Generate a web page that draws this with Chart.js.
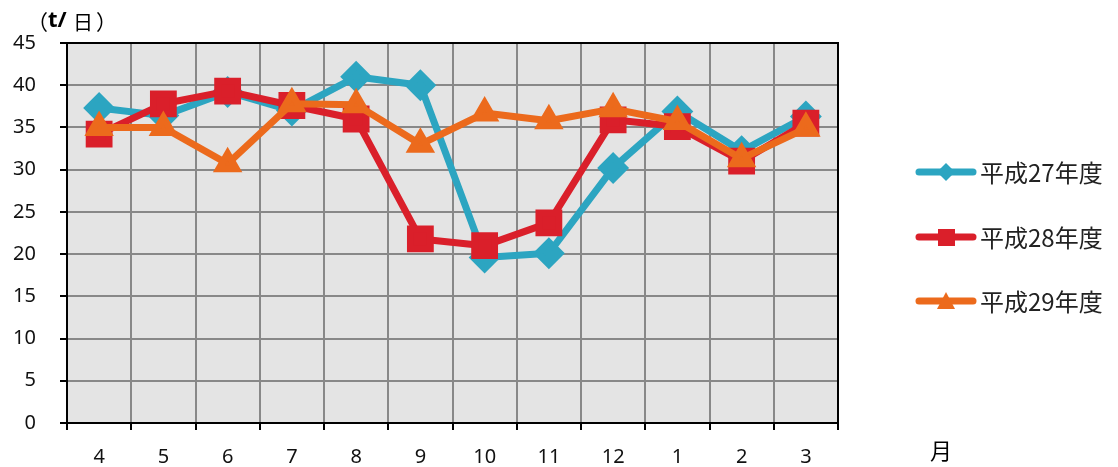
<!DOCTYPE html>
<html>
<head>
<meta charset="utf-8">
<script src="https://cdn.jsdelivr.net/npm/chart.js@4"></script>
<style>
  html, body { margin: 0; padding: 0; background: #fff; }
  canvas { display: block; }
</style>
</head>
<body>
<canvas id="lineChart" width="1118" height="467"></canvas>
<script>
const months = ['4', '5', '6', '7', '8', '9', '10', '11', '12', '1', '2', '3'];
const h27 = [37.3, 36.4, 39.2, 37.0, 41.0, 40.0, 19.6, 20.1, 30.2, 36.9, 32.2, 36.3];
const h28 = [34.2, 37.8, 39.3, 37.6, 36.0, 21.8, 21.0, 23.7, 35.9, 35.1, 31.0, 35.5];
const h29 = [35.0, 35.0, 30.7, 37.8, 37.7, 33.0, 36.7, 35.8, 37.2, 35.7, 31.3, 34.9];
const yTicks = [0, 5, 10, 15, 20, 25, 30, 35, 40, 45];

const teal = '#2CA5C1';
const red = '#DA1F2A';
const orange = '#EC6A1C';

const labelFont = "'Noto Sans', 'Noto Sans CJK JP', sans-serif";
const cjkFont = "'Noto Sans CJK JP', sans-serif";

// background + frame for the plot area
const plotArea = {
  id: 'plotArea',
  beforeDraw(chart) {
    const { ctx, chartArea: a } = chart;
    ctx.save();
    ctx.fillStyle = '#E4E4E4';
    ctx.fillRect(a.left, a.top, a.right - a.left, a.bottom - a.top);
    ctx.restore();
  },
  afterDatasetsDraw(chart) {
    const { ctx, chartArea: a } = chart;
    ctx.save();
    ctx.strokeStyle = '#000';
    ctx.lineWidth = 2;
    ctx.beginPath();
    ctx.moveTo(a.left, a.top);
    ctx.lineTo(a.right, a.top);
    ctx.lineTo(a.right, a.bottom);
    ctx.stroke();
    ctx.restore();
  }
};

// unit labels and right-hand legend
const extras = {
  id: 'extras',
  afterDraw(chart) {
    const ctx = chart.ctx;
    ctx.save();
    ctx.fillStyle = '#000';
    ctx.textBaseline = 'middle';
    ctx.font = '21px ' + cjkFont;
    ctx.fillText('（', 27, 22);
    ctx.font = 'bold 22px ' + labelFont;
    ctx.fillText('t/', 48, 21);
    ctx.font = '20px ' + cjkFont;
    ctx.fillText('日', 73, 22);
    ctx.font = '21px ' + cjkFont;
    ctx.fillText('）', 96, 22);
    ctx.font = '22px ' + cjkFont;
    ctx.fillText('月', 930, 451);

    const ys = [172, 237, 301];
    chart.data.datasets.forEach((ds, i) => {
      const y = ys[i];
      ctx.strokeStyle = ds.borderColor;
      ctx.lineWidth = 7;
      ctx.lineCap = 'round';
      ctx.beginPath();
      ctx.moveTo(919, y);
      ctx.lineTo(973, y);
      ctx.stroke();
      ctx.fillStyle = ds.borderColor;
      ctx.beginPath();
      if (ds.pointStyle === 'rectRot') {
        ctx.moveTo(946, y - 9); ctx.lineTo(955, y); ctx.lineTo(946, y + 9); ctx.lineTo(937, y);
      } else if (ds.pointStyle === 'rect') {
        ctx.rect(938, y - 8, 17, 17);
      } else {
        ctx.moveTo(946, y - 9); ctx.lineTo(955, y + 8); ctx.lineTo(937, y + 8);
      }
      ctx.closePath();
      ctx.fill();
      ctx.fillStyle = '#222';
      ctx.font = '24px ' + cjkFont;
      ctx.fillText(ds.label, 980, y + 1);
    });
    ctx.restore();
  }
};

new Chart(document.getElementById('lineChart'), {
  type: 'line',
  data: {
    labels: months,
    datasets: [
      {
        label: '平成27年度',
        data: h27,
        borderColor: teal,
        backgroundColor: teal,
        borderWidth: 7,
        pointStyle: 'rectRot',
        pointRadius: 11,
        order: 2
      },
      {
        label: '平成28年度',
        data: h28,
        borderColor: red,
        backgroundColor: red,
        borderWidth: 7,
        pointStyle: 'rect',
        pointRadius: 14,
        order: 1
      },
      {
        label: '平成29年度',
        data: h29,
        borderColor: orange,
        backgroundColor: orange,
        borderWidth: 7,
        pointStyle: 'triangle',
        pointRadius: 10,
        order: 0
      }
    ]
  },
  options: {
    responsive: false,
    animation: false,
    layout: { padding: { top: 43, right: 280, left: 0, bottom: 0 } },
    plugins: {
      legend: { display: false },
      tooltip: { enabled: false }
    },
    elements: {
      line: { tension: 0, borderJoinStyle: 'round' },
      point: { borderWidth: 0, hoverRadius: 0 }
    },
    scales: {
      x: {
        offset: true,
        grid: {
          offset: true,
          color: '#888',
          lineWidth: 2,
          tickColor: '#000',
          tickLength: 7,
          drawOnChartArea: true
        },
        border: { color: '#000', width: 2 },
        ticks: {
          color: '#111',
          font: { family: labelFont, size: 20 },
          padding: 15,
          maxRotation: 0
        },
        afterFit(scale) { scale.height = 44; }
      },
      y: {
        min: 0,
        max: 45,
        afterBuildTicks(scale) { scale.ticks = yTicks.map(v => ({ value: v })); },
        grid: {
          color: '#888',
          lineWidth: 2,
          tickColor: '#000',
          tickLength: 7
        },
        border: { color: '#000', width: 2 },
        ticks: {
          color: '#111',
          font: { family: labelFont, size: 20 },
          padding: 24
        },
        afterFit(scale) { scale.width = 67; }
      }
    }
  },
  plugins: [plotArea, extras]
});
</script>
</body>
</html>
